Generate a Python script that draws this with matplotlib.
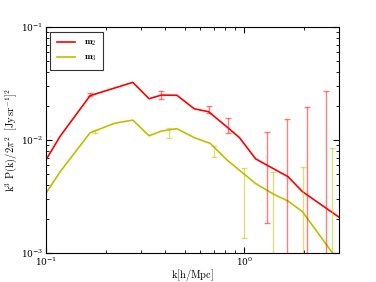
import numpy as np
import matplotlib
matplotlib.use('Agg')
import matplotlib.pyplot as plt

plt.rcParams['mathtext.fontset'] = 'cm'
plt.rcParams['font.family'] = 'serif'
plt.rcParams['font.serif'] = ['DejaVu Serif']

# line data
k_m2 = [0.1, 0.118, 0.167, 0.274, 0.331, 0.382, 0.457, 0.559, 0.660, 0.828, 0.944, 1.14, 1.66, 1.96, 3.0]
p_m2 = [0.00665, 0.0108, 0.0247, 0.0324, 0.0232, 0.025, 0.0249, 0.0189, 0.0178, 0.0128, 0.0105, 0.0068, 0.00473, 0.00349, 0.00207]
k_m3 = [0.1, 0.118, 0.167, 0.223, 0.274, 0.331, 0.382, 0.457, 0.559, 0.673, 0.818, 1.14, 1.41, 1.66, 1.96, 3.0]
p_m3 = [0.00337, 0.00524, 0.0116, 0.0141, 0.0150, 0.0109, 0.0120, 0.0126, 0.0105, 0.00933, 0.00665, 0.00411, 0.0033, 0.00288, 0.00232, 0.00083]

# error bars
ek_m2 = [0.167, 0.382, 0.660, 0.828, 1.30, 1.64, 2.07, 2.59]
ey_m2 = [0.0255, 0.0251, 0.0187, 0.0136, 0.00678, 0.0047, 0.0034, 0.0025]
ee_m2 = [0.0008, 0.0021, 0.0013, 0.0021, 0.00493, 0.0105, 0.0163, 0.0248]
ek_m3 = [0.177, 0.415, 0.70, 0.994, 1.40, 1.97, 2.77]
ey_m3 = [0.01185, 0.0116, 0.00797, 0.00349, 0.0029, 0.0031, 0.0042]
ee_m3 = [0.0004, 0.0011, 0.00094, 0.00214, 0.0023, 0.0027, 0.0043]

fig = plt.figure(figsize=(3.76, 2.82), dpi=100)
ax = fig.add_axes([0.122, 0.103, 0.780, 0.801])

ax.plot(k_m2, p_m2, color='r', lw=1.2, label=r'$\mathbf{m}_2$')
ax.plot(k_m3, p_m3, color='y', lw=1.2, label=r'$\mathbf{m}_3$')
ax.errorbar(ek_m2, ey_m2, yerr=ee_m2, fmt='none', ecolor='r', alpha=0.5, elinewidth=1.0, capsize=2)
ax.errorbar(ek_m3, ey_m3, yerr=ee_m3, fmt='none', ecolor='y', alpha=0.5, elinewidth=1.0, capsize=2)

ax.set_xscale('log')
ax.set_yscale('log')
ax.set_xlim(0.1, 3.0)
ax.set_ylim(1e-3, 1e-1)
ax.tick_params(which='both', direction='in', top=True, right=True, labelsize=6.5, pad=2)
ax.tick_params(which='major', length=4)
ax.tick_params(which='minor', length=2)
ax.set_xlabel(r'$\mathrm{k[h/Mpc]}$', fontsize=7.5, labelpad=-1)
ax.set_ylabel(r'$\mathrm{k^3\ P(k)/2\pi^2\ \ [Jy\,sr^{-1}]^2}$', fontsize=7.5, labelpad=1)

leg = ax.legend(loc='upper left', fontsize=6.5, fancybox=False, edgecolor='k', handlelength=2.0, borderpad=0.7, handletextpad=1.0)
leg.get_frame().set_linewidth(0.8)

plt.savefig('out.png', dpi=100)
